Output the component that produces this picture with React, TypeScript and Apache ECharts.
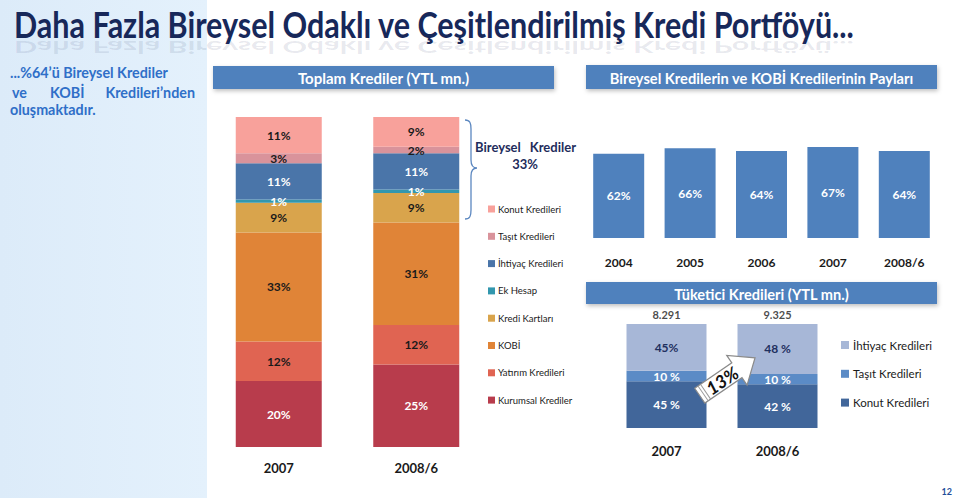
import React, { useEffect, useRef } from "react";
import * as echarts from "echarts";

// ---------- DATA ----------
const portfolioYears = ["2007", "2008/6"];
const portfolioNames = [
  "Konut Kredileri",
  "Taşıt Kredileri",
  "İhtiyaç Kredileri",
  "Ek Hesap",
  "Kredi Kartları",
  "KOBİ",
  "Yatırım Kredileri",
  "Kurumsal Krediler",
];
const konut = [11, 9];
const tasit = [3, 2];
const ihtiyac = [11, 11];
const ekHesap = [1, 1];
const krediKartlari = [9, 9];
const kobi = [33, 31];
const yatirim = [12, 12];
const kurumsal = [20, 25];

const shareYears = ["2004", "2005", "2006", "2007", "2008/6"];
const shareValues = [62, 66, 64, 67, 64];

const consumerYears = ["2007", "2008/6"];
const consumerNames = ["İhtiyaç Kredileri", "Taşıt Kredileri", "Konut Kredileri"];
const consIhtiyac = [45, 48];
const consTasit = [10, 10];
const consKonut = [45, 42];
const consTotals = [8291, 9325];
const consGrowth = "13%";

// ---------- STYLES ----------
const portfolioStyle: Record<string, { color: string; text: string }> = {
  "Konut Kredileri": { color: "#F8A19B", text: "#1a1a1a" },
  "Taşıt Kredileri": { color: "#D9939B", text: "#1a1a1a" },
  "İhtiyaç Kredileri": { color: "#4A75A9", text: "#ffffff" },
  "Ek Hesap": { color: "#3297AE", text: "#ffffff" },
  "Kredi Kartları": { color: "#D9A44C", text: "#1a1a1a" },
  "KOBİ": { color: "#E08437", text: "#1a1a1a" },
  "Yatırım Kredileri": { color: "#E06452", text: "#1a1a1a" },
  "Kurumsal Krediler": { color: "#B83C4C", text: "#ffffff" },
};
const consumerStyle: Record<string, { color: string; text: string }> = {
  "İhtiyaç Kredileri": { color: "#A7B7D7", text: "#1F3060" },
  "Taşıt Kredileri": { color: "#5B8BC6", text: "#ffffff" },
  "Konut Kredileri": { color: "#41669A", text: "#ffffff" },
};

const FONT = "Lato, 'Open Sans', sans-serif";

const measure = (text: string, font: string) => {
  const ctx = document.createElement("canvas").getContext("2d")!;
  ctx.font = font;
  return ctx.measureText(text).width || 1;
};

function txt(
  text: string,
  x: number,
  y: number,
  o: {
    size: number;
    weight?: string;
    color?: string;
    align?: string;
    valign?: string;
    scaleX?: number;
    scaleY?: number;
    rotation?: number;
    style?: string;
    z?: number;
    opacity?: number;
  }
) {
  return {
    type: "text",
    x,
    y,
    scaleX: o.scaleX ?? 1,
    scaleY: o.scaleY ?? 1,
    rotation: o.rotation ?? 0,
    z: o.z ?? 10,
    silent: true,
    style: {
      text,
      fontSize: o.size,
      fontWeight: o.weight ?? "normal",
      fontStyle: o.style ?? "normal",
      fontFamily: FONT,
      fill: o.color ?? "#1a1a1a",
      opacity: o.opacity ?? 1,
      align: o.align ?? "left",
      textAlign: o.align ?? "left",
      verticalAlign: o.valign ?? "middle",
      textVerticalAlign: o.valign ?? "middle",
    },
  };
}

function buildOption() {
  echarts.graphic.registerShape(
    "brace",
    echarts.graphic.extendPath(
      "M0,0 C5,0 6,3 6,9 L6,40 C6,46 8,48 12,48 C8,48 6,50 6,56 L6,90 C6,96 5,99 0,99",
      {}
    ) as any
  );

  const portfolioValues: Record<string, number[]> = {
    "Konut Kredileri": konut,
    "Taşıt Kredileri": tasit,
    "İhtiyaç Kredileri": ihtiyac,
    "Ek Hesap": ekHesap,
    "Kredi Kartları": krediKartlari,
    "KOBİ": kobi,
    "Yatırım Kredileri": yatirim,
    "Kurumsal Krediler": kurumsal,
  };
  const consumerValues: Record<string, number[]> = {
    "İhtiyaç Kredileri": consIhtiyac,
    "Taşıt Kredileri": consTasit,
    "Konut Kredileri": consKonut,
  };

  const series: any[] = [];
  // left stacked (bottom first)
  [...portfolioNames].reverse().forEach((n) => {
    series.push({
      type: "bar",
      name: n,
      stack: "portfolio",
      xAxisIndex: 0,
      yAxisIndex: 0,
      barWidth: 86,
      data: portfolioValues[n],
      itemStyle: { color: portfolioStyle[n].color },
      label: {
        show: true,
        position: "inside",
        formatter: (p: any) => `${p.value}%`,
        color: portfolioStyle[n].text,
        fontFamily: FONT,
        fontSize: 12,
        fontWeight: "bold",
      },
    });
  });
  // share bars
  series.push({
    type: "bar",
    name: "Pay",
    xAxisIndex: 1,
    yAxisIndex: 1,
    barWidth: 51,
    data: shareValues,
    itemStyle: { color: "#4F81BD" },
    label: {
      show: true,
      position: "inside",
      formatter: (p: any) => `${p.value}%`,
      color: "#ffffff",
      fontFamily: FONT,
      fontSize: 12,
      fontWeight: "bold",
    },
  });
  // consumer stacked (bottom first)
  [...consumerNames].reverse().forEach((n) => {
    series.push({
      type: "bar",
      name: "c:" + n,
      stack: "consumer",
      xAxisIndex: 2,
      yAxisIndex: 2,
      barWidth: 80,
      data: consumerValues[n],
      itemStyle: { color: consumerStyle[n].color },
      label: {
        show: true,
        position: "inside",
        formatter: (p: any) =>
          n === "İhtiyaç Kredileri" && p.dataIndex === 0 ? `${p.value}%` : `${p.value} %`,
        color: consumerStyle[n].text,
        fontFamily: FONT,
        fontSize: 12,
        fontWeight: "bold",
      },
    });
  });
  series.push({
    type: "scatter",
    name: "totals",
    xAxisIndex: 2,
    yAxisIndex: 2,
    symbolSize: 0,
    data: consumerYears.map((_, i) => [i, 100]),
    label: {
      show: true,
      position: "top",
      distance: 4,
      formatter: (p: any) => consTotals[p.dataIndex].toLocaleString("de-DE"),
      color: "#1a1a1a",
      fontFamily: FONT,
      fontSize: 11,
      fontWeight: "bold",
    },
  });

  const xAxisBase = (data: string[], grid: number, margin: number, size: number) => ({
    type: "category",
    gridIndex: grid,
    data,
    axisLine: { show: false },
    axisTick: { show: false },
    axisLabel: {
      margin,
      color: "#1a1a1a",
      fontFamily: FONT,
      fontSize: size,
      fontWeight: "bold",
    },
  });
  const yAxisBase = (grid: number) => ({
    type: "value",
    gridIndex: grid,
    min: 0,
    max: 100,
    show: false,
    splitLine: { show: false },
  });

  // ---------- graphics ----------
  const title = "Daha Fazla Bireysel Odaklı ve Çeşitlendirilmiş Kredi Portföyü...";
  const titleFont = `bold 36px Lato`;
  const titleScale = 841 / measure(title, titleFont);

  const leftFont = "bold 16px Lato";
  const line1 = "...%64’ü Bireysel Krediler";
  const leftScale = 158 / measure(line1, leftFont);

  const hdrFont = "bold 15px Lato";
  const hdr1 = "Toplam Krediler (YTL mn.)";
  const hdr2 = "Bireysel Kredilerin ve KOBİ Kredilerinin Payları";
  const hdr3 = "Tüketici Kredileri (YTL mn.)";

  const header = (text: string, x: number, y: number, w: number, h: number, tw: number) => [
    {
      type: "rect",
      z: 5,
      shape: { x, y, width: w, height: h },
      style: {
        fill: "#4F81BD",
        shadowBlur: 4,
        shadowColor: "rgba(0,0,0,0.25)",
        shadowOffsetX: 1,
        shadowOffsetY: 2,
      },
    },
    txt(text, x + w / 2, y + h / 2 + 0.5, {
      size: 15,
      weight: "bold",
      color: "#ffffff",
      align: "center",
      scaleX: tw / measure(text, hdrFont),
      z: 6,
    }),
  ];

  const leftTxt = (t: string, x: number, y: number, align = "left") =>
    txt(t, x, y, { size: 16, weight: "bold", color: "#2F6FC8", scaleX: leftScale, align, z: 20 });

  const graphic: any[] = [
    {
      type: "rect",
      z: 0,
      shape: { x: 0, y: 0, width: 207, height: 498 },
      style: {
        fill: new echarts.graphic.LinearGradient(0, 0, 1, 0, [
          { offset: 0, color: "#DCEBF9" },
          { offset: 1, color: "#E4F1FC" },
        ]),
      },
    },
    // title
    txt(title, 14, 24, {
      size: 36,
      weight: "bold",
      color: "#17285A",
      scaleX: titleScale,
      z: 20,
    }),
    txt(title, 14, 39, {
      size: 36,
      weight: "bold",
      color: "#17285A",
      scaleX: titleScale,
      scaleY: -0.45,
      valign: "bottom",
      opacity: 0.1,
      z: 19,
    }),
    // left text
    leftTxt(line1, 10, 72),
    leftTxt("ve", 12, 92),
    leftTxt("KOBİ", 50, 92),
    leftTxt("Kredileri’nden", 195, 92, "right"),
    leftTxt("oluşmaktadır.", 10, 109),
    // headers
    ...header(hdr1, 213, 66, 341, 23, 172),
    ...header(hdr2, 586, 65, 351, 24, 304),
    ...header(hdr3, 586, 282, 351, 22, 175),
    // brace
    {
      type: "brace",
      x: 465,
      y: 120,
      z: 20,
      style: { fill: "none", stroke: "#5B87C0", lineWidth: 1.3 },
    },
    txt("Bireysel", 475, 147, { size: 13, weight: "bold", color: "#1F2D5C", z: 20 }),
    txt("Krediler", 576, 147, { size: 13, weight: "bold", color: "#1F2D5C", align: "right", z: 20 }),
    txt("33%", 525, 164, { size: 13, weight: "bold", color: "#1F2D5C", align: "center", z: 20 }),
    // arrow
    {
      type: "group",
      x: 727,
      y: 377,
      rotation: 0.6,
      z: 50,
      children: [
        {
          type: "polygon",
          z: 50,
          shape: {
            points: [
              [-33, -9],
              [12, -9],
              [12, -18],
              [34, 0],
              [12, 18],
              [12, 9],
              [-33, 9],
            ],
          },
          style: { fill: "#ffffff", stroke: "#8A8A8A", lineWidth: 1.2 },
        },
        {
          type: "line",
          z: 51,
          shape: { x1: -29, y1: -9, x2: -29, y2: 9 },
          style: { stroke: "#9A9A9A", lineWidth: 1 },
        },
        {
          type: "line",
          z: 51,
          shape: { x1: -26, y1: -9, x2: -26, y2: 9 },
          style: { stroke: "#9A9A9A", lineWidth: 1 },
        },
        txt(consGrowth, -6, 0, {
          size: 18,
          weight: "bold",
          style: "italic",
          color: "#111111",
          align: "center",
          z: 52,
        }),
      ],
    },
    // page number
    txt("12", 952, 491, { size: 9, weight: "bold", color: "#1F4E9A", align: "right", z: 20 }),
  ];

  return {
    animation: false,
    backgroundColor: "#ffffff",
    grid: [
      { left: 210, top: 117, width: 275, height: 330 },
      { left: 583, top: 102, width: 357, height: 136 },
      { left: 611, top: 324, width: 222, height: 104 },
    ],
    xAxis: [
      xAxisBase(portfolioYears, 0, 14, 13),
      xAxisBase(shareYears, 1, 18, 12),
      xAxisBase(consumerYears, 2, 16, 13),
    ],
    yAxis: [yAxisBase(0), yAxisBase(1), yAxisBase(2)],
    legend: [
      {
        data: portfolioNames,
        orient: "vertical",
        left: 483,
        top: 199,
        itemWidth: 7,
        itemHeight: 7,
        itemGap: 17.3,
        icon: "rect",
        selectedMode: false,
        textStyle: { fontFamily: FONT, fontSize: 9.5, color: "#1a1a1a", padding: [0, 0, 0, -2] },
      },
      {
        data: consumerNames.map((n) => "c:" + n),
        formatter: (name: string) => name.slice(2),
        orient: "vertical",
        left: 836,
        top: 334,
        itemWidth: 8,
        itemHeight: 8,
        itemGap: 16.8,
        icon: "rect",
        selectedMode: false,
        textStyle: { fontFamily: FONT, fontSize: 11.5, color: "#1a1a1a", padding: [0, 0, 0, -1] },
      },
    ],
    series,
    graphic,
  };
}

export default function App() {
  const ref = useRef<HTMLDivElement>(null);
  useEffect(() => {
    const chart = echarts.init(ref.current!, null, { renderer: "svg" });
    chart.setOption(buildOption() as any);
    return () => chart.dispose();
  }, []);
  return (
    <div
      ref={ref}
      style={{ position: "fixed", left: 0, top: 0, width: 959, height: 500, background: "#fff" }}
    />
  );
}
